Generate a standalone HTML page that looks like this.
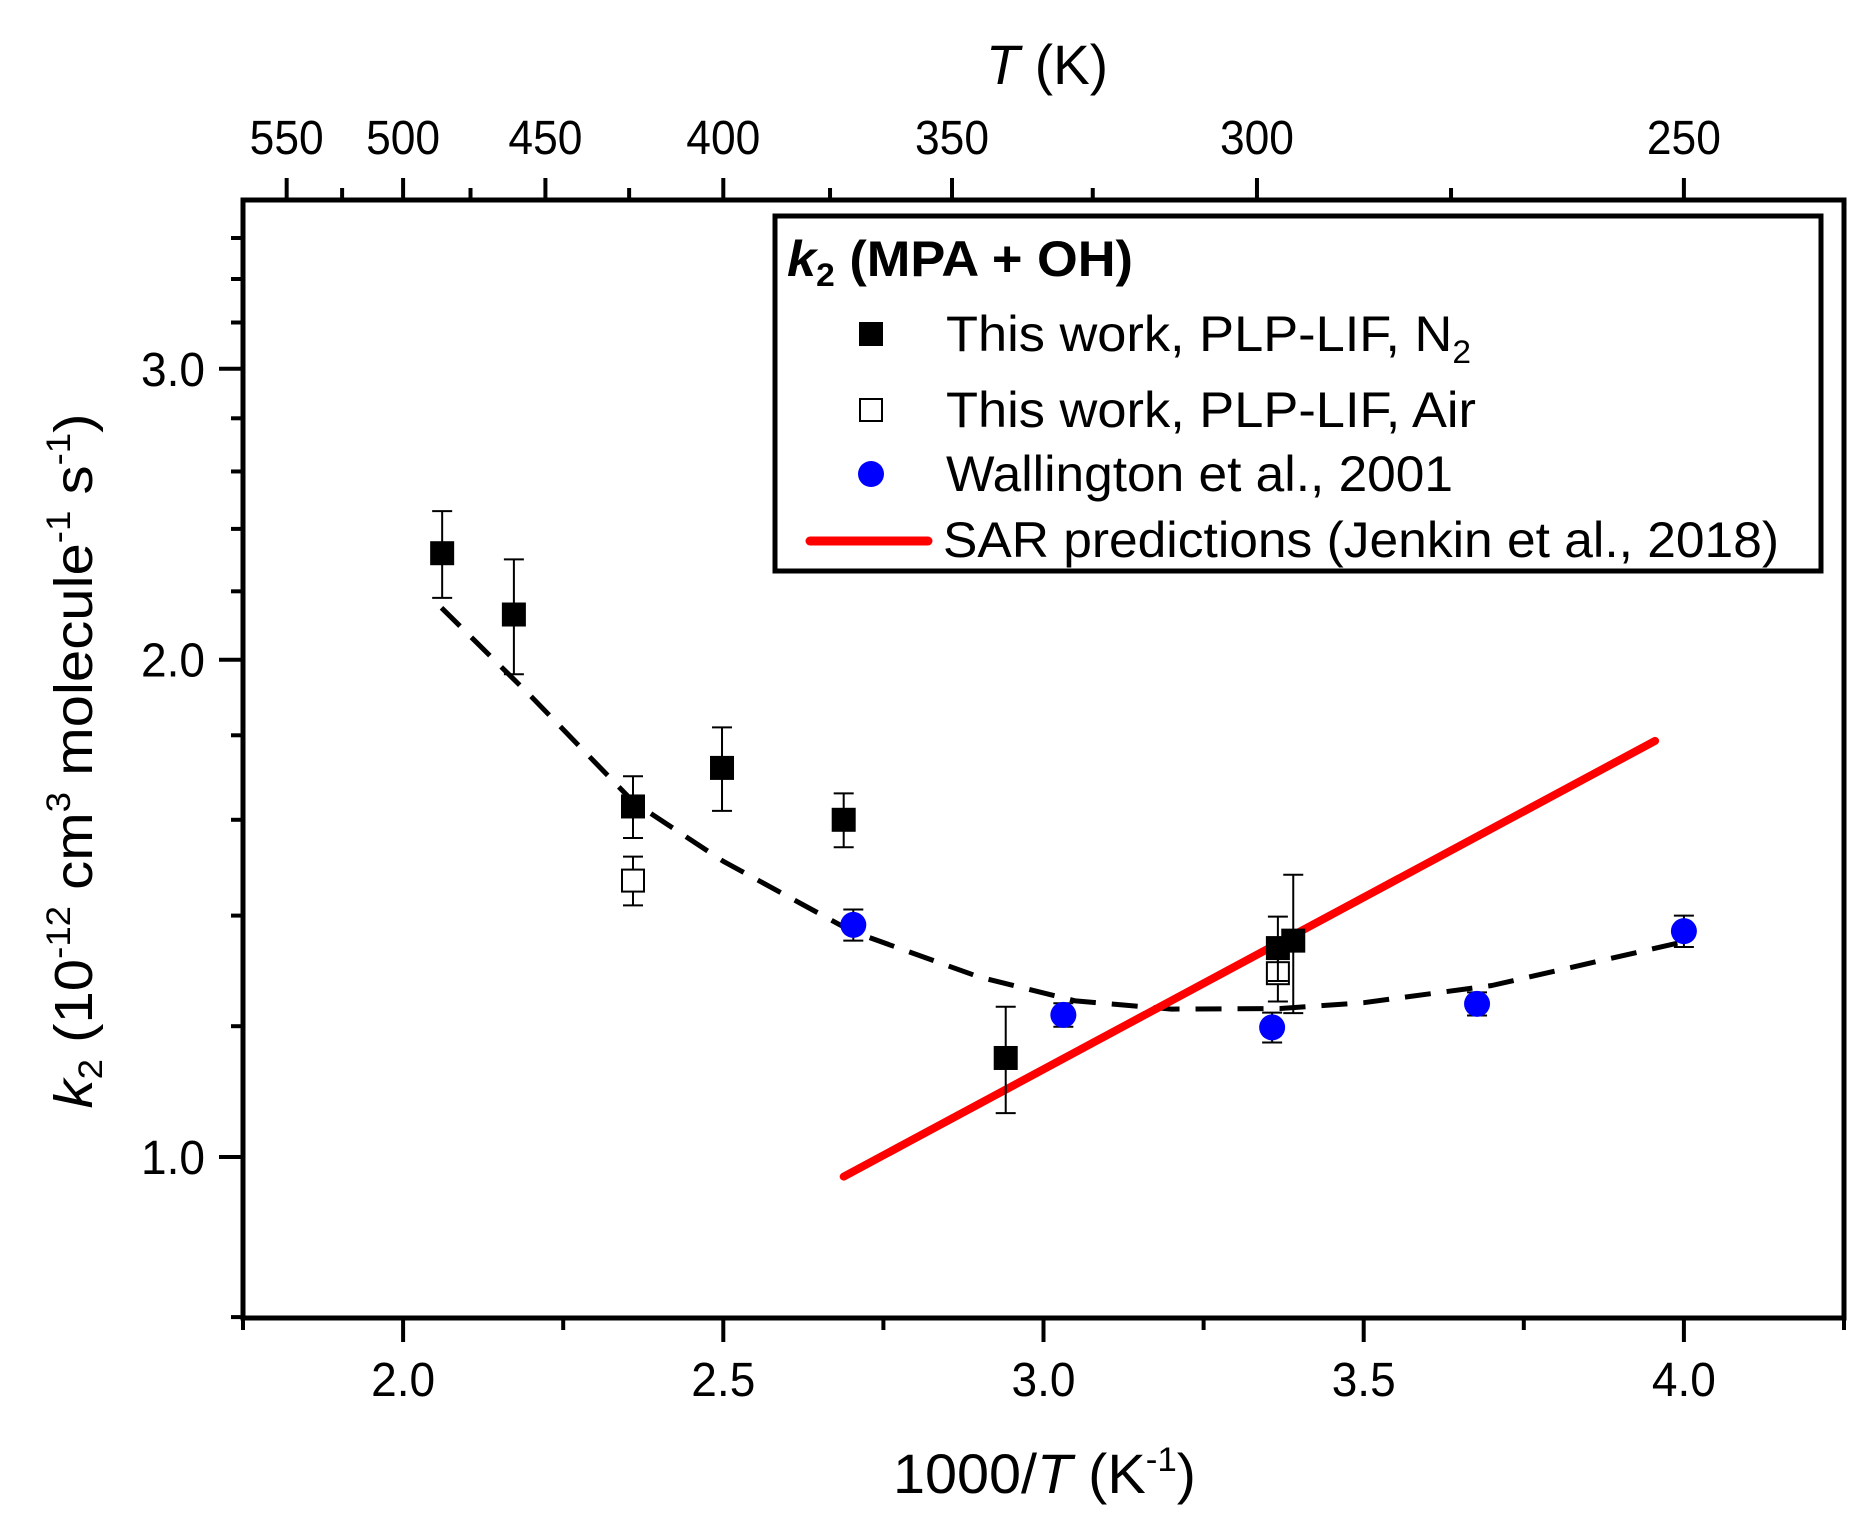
<!DOCTYPE html>
<html><head><meta charset="utf-8"><style>
html,body{margin:0;padding:0;background:#fff;}
svg{display:block;font-family:"Liberation Sans",Arial,sans-serif;}
</style></head><body>
<svg id="chart" width="1871" height="1535" viewBox="0 0 1871 1535" xmlns="http://www.w3.org/2000/svg">
<rect x="0" y="0" width="1871" height="1535" fill="#fff"/>
<g id="axes"></g>
<g id="marks"></g>
<rect x="243" y="200" width="1601" height="1118" fill="none" stroke="#000" stroke-width="5"/>
<text x="1047" y="84" font-size="56" text-anchor="middle" textLength="122" lengthAdjust="spacingAndGlyphs"><tspan font-style="italic">T</tspan> (K)</text>
<text x="893" y="1493" font-size="56" textLength="303" lengthAdjust="spacingAndGlyphs">1000/<tspan font-style="italic">T</tspan> (K<tspan font-size="34" dy="-22">-1</tspan><tspan dy="22">)</tspan></text>
<text transform="translate(92,761) rotate(-90)" font-size="54" text-anchor="middle" textLength="695" lengthAdjust="spacingAndGlyphs"><tspan font-style="italic">k</tspan><tspan font-size="34" dy="10">2</tspan><tspan dy="-10"> (10</tspan><tspan font-size="34" dy="-22">-12</tspan><tspan dy="22"> cm</tspan><tspan font-size="34" dy="-22">3</tspan><tspan dy="22"> molecule</tspan><tspan font-size="34" dy="-22">-1</tspan><tspan dy="22"> s</tspan><tspan font-size="34" dy="-22">-1</tspan><tspan dy="22">)</tspan></text>
<g>
<rect x="775" y="216" width="1046" height="355" fill="#fff" stroke="#000" stroke-width="5"/>
<text x="787" y="276" font-size="50" font-weight="bold" textLength="346" lengthAdjust="spacingAndGlyphs"><tspan font-style="italic">k</tspan><tspan font-size="32" dy="10">2</tspan><tspan dy="-10"> (MPA + OH)</tspan></text>
<rect x="859" y="322" width="24" height="24" fill="#000"/>
<text x="946" y="351" font-size="50" textLength="525" lengthAdjust="spacingAndGlyphs">This work, PLP-LIF, N<tspan font-size="32" dy="12">2</tspan></text>
<rect x="860" y="399" width="22" height="22" fill="#fff" stroke="#000" stroke-width="2"/>
<text x="946" y="427" font-size="50" textLength="530" lengthAdjust="spacingAndGlyphs">This work, PLP-LIF, Air</text>
<circle cx="871" cy="474" r="13" fill="#0000ff"/>
<text x="946" y="491" font-size="50" textLength="507" lengthAdjust="spacingAndGlyphs">Wallington et al., 2001</text>
<line x1="810" y1="541" x2="928" y2="541" stroke="#ff0000" stroke-width="9" stroke-linecap="round"/>
<text x="943" y="557" font-size="50" textLength="836" lengthAdjust="spacingAndGlyphs">SAR predictions (Jenkin et al., 2018)</text>
</g>
</svg>
<script>
// data
const xTicks = [2.0, 2.5, 3.0, 3.5, 4.0];
const xTickLabels = ['2.0', '2.5', '3.0', '3.5', '4.0'];
const xMinorTicks = [1.75, 2.25, 2.75, 3.25, 3.75, 4.25];
const yTicks = [1.0, 2.0, 3.0];
const yTickLabels = ['1.0', '2.0', '3.0'];
const yMinorTicks = [0.8, 1.2, 1.4, 1.6, 1.8, 2.2, 2.4, 2.6, 2.8, 3.2, 3.4, 3.6];
const tTicks = [550, 500, 450, 400, 350, 300, 250];
const tTickLabels = ['550', '500', '450', '400', '350', '300', '250'];
const tMinorTicks = [525, 475, 425, 375, 325, 275];

const n2X = [2.061, 2.173, 2.359, 2.498, 2.688, 2.941, 3.366, 3.390];
const n2K = [2.32, 2.13, 1.63, 1.72, 1.60, 1.148, 1.338, 1.352];
const n2Err = [0.14, 0.17, 0.07, 0.10, 0.06, 0.085, 0.06, 0.13];
const airX = [2.359, 3.366];
const airK = [1.47, 1.292];
const airErr = [0.05, 0.05];
const walX = [2.703, 3.031, 3.357, 3.677, 4.0];
const walK = [1.382, 1.219, 1.198, 1.238, 1.37];
const walErr = [0.03, 0.02, 0.025, 0.02, 0.03];
const sarX = [2.688, 3.955];
const sarK = [0.973, 1.786];
const fitX = [2.06, 2.2, 2.36, 2.5, 2.7, 2.9, 3.05, 3.2, 3.37, 3.5, 3.7, 4.0];
const fitK = [2.15, 1.90, 1.64, 1.51, 1.37, 1.285, 1.243, 1.229, 1.23, 1.24, 1.27, 1.35];

const NS = 'http://www.w3.org/2000/svg';
const X0 = 243, X1 = 1844, Y0 = 200, Y1 = 1318;
function xs(v) { return X0 + (v - 1.75) / 2.5 * (X1 - X0); }
function ys(v) { return 1157 - 1652 * Math.log10(v); }
function mk(tag, attrs, parent) {
  const e = document.createElementNS(NS, tag);
  for (const k in attrs) e.setAttribute(k, attrs[k]);
  parent.appendChild(e);
  return e;
}
const axes = document.getElementById('axes');
const marks = document.getElementById('marks');

xTicks.forEach((v, i) => {
  const x = xs(v);
  const t = mk('line', {x1: x, x2: x, y1: Y1, y2: Y1 + 24, stroke: '#000', 'stroke-width': 4}, axes);
  
  
  const l = mk('text', {x: x - 32, y: 1396, 'font-size': 48, textLength: 64, lengthAdjust: 'spacingAndGlyphs'}, axes);
  l.textContent = xTickLabels[i];
  
  
});
xMinorTicks.forEach(v => {
  const x = xs(v);
  const t = mk('line', {x1: x, x2: x, y1: Y1, y2: Y1 + 12, stroke: '#000', 'stroke-width': 4}, axes);
  
  
});
yTicks.forEach((v, i) => {
  const y = ys(v);
  const t = mk('line', {x1: X0 - 24, x2: X0, y1: y, y2: y, stroke: '#000', 'stroke-width': 4}, axes);
  
  
  const l = mk('text', {x: 141, y: y + 17, 'font-size': 48, textLength: 64, lengthAdjust: 'spacingAndGlyphs'}, axes);
  l.textContent = yTickLabels[i];
  
  
});
yMinorTicks.forEach(v => {
  const y = ys(v);
  const t = mk('line', {x1: X0 - 12, x2: X0, y1: y, y2: y, stroke: '#000', 'stroke-width': 4}, axes);
  
  
});
tTicks.forEach((v, i) => {
  const x = xs(1000 / v);
  const t = mk('line', {x1: x, x2: x, y1: Y0 - 22, y2: Y0, stroke: '#000', 'stroke-width': 4}, axes);
  
  
  const l = mk('text', {x: x - 37, y: 154, 'font-size': 48, textLength: 74, lengthAdjust: 'spacingAndGlyphs'}, axes);
  l.textContent = tTickLabels[i];
  
  
});
tMinorTicks.forEach(v => {
  const x = xs(1000 / v);
  const t = mk('line', {x1: x, x2: x, y1: Y0 - 12, y2: Y0, stroke: '#000', 'stroke-width': 4}, axes);
  
  
});

// fit curve
let d = '';
fitX.forEach((v, i) => { d += (i ? ' L' : 'M') + xs(v).toFixed(1) + ',' + ys(fitK[i]).toFixed(1); });
const fit = mk('path', {d: d, fill: 'none', stroke: '#000', 'stroke-width': 5, 'stroke-dasharray': '26,16', 'stroke-linejoin': 'round'}, marks);



// SAR line
let d2 = '';
sarX.forEach((v, i) => { d2 += (i ? ' L' : 'M') + xs(v).toFixed(1) + ',' + ys(sarK[i]).toFixed(1); });
const sar = mk('path', {d: d2, fill: 'none', stroke: '#ff0000', 'stroke-width': 8, 'stroke-linecap': 'round'}, marks);



function errBar(x, k, e) {
  const px = xs(x), yt = ys(k + e), yb = ys(k - e);
  const g = mk('path', {d: `M${px},${yt} L${px},${yb} M${px - 10},${yt} L${px + 10},${yt} M${px - 10},${yb} L${px + 10},${yb}`, stroke: '#000', 'stroke-width': 2, fill: 'none'}, marks);
  
  
}
airX.forEach((v, i) => {
  errBar(v, airK[i], airErr[i]);
  const r = mk('rect', {x: xs(v) - 11, y: ys(airK[i]) - 11, width: 22, height: 22, fill: '#fff', stroke: '#000', 'stroke-width': 2}, marks);
  
  
});
n2X.forEach((v, i) => {
  errBar(v, n2K[i], n2Err[i]);
  const r = mk('rect', {x: xs(v) - 12, y: ys(n2K[i]) - 12, width: 24, height: 24, fill: '#000'}, marks);
  
  
});
walX.forEach((v, i) => {
  errBar(v, walK[i], walErr[i]);
  const c = mk('circle', {cx: xs(v), cy: ys(walK[i]), r: 13, fill: '#0000ff'}, marks);
  
  
});
</script>
</body></html>
